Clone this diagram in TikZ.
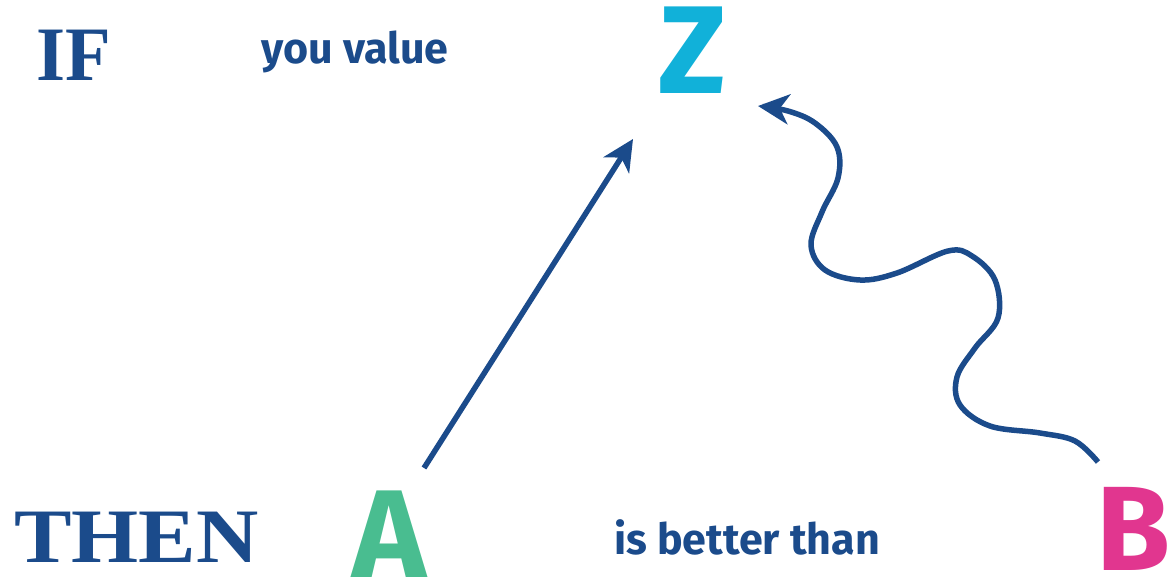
\documentclass[tikz,border=0pt]{standalone}
\usepackage{fontspec}
\setmainfont{Liberation Serif}
\newfontfamily\fira{Fira Sans}
\usetikzlibrary{arrows.meta}
\definecolor{navy}{HTML}{1B4B8B}
\definecolor{zcyan}{HTML}{11B1D9}
\definecolor{agreen}{HTML}{49BD90}
\definecolor{bpink}{HTML}{E1368F}
\tikzset{
  serifword/.style={inner sep=0pt, anchor=base west, text=navy, font=\bfseries\fontsize{77}{77}\selectfont},
  sansword/.style={inner sep=0pt, anchor=base west, text=navy, font=\fira\bfseries\fontsize{43}{43}\selectfont},
  bigletter/.style={inner sep=0pt, anchor=base west, font=\fira\bfseries\fontsize{125}{125}\selectfont},
  link/.style={draw=navy, line width=5.5pt, -{Stealth[length=31pt, width=30pt, inset=9pt]}}
}
\begin{document}
\begin{tikzpicture}[x=1pt, y=-1pt]
\useasboundingbox (0,0) rectangle (1171,580);
\node[serifword, xscale=0.97] (if) at (36,81) {IF};
\node[serifword, xscale=1.12] (then) at (14,562) {THEN};
\node[sansword] (youvalue) at (261,64) {you value};
\node[sansword] (better) at (614,554) {is better than};
\node[bigletter, text=zcyan] (Z) at (658,94) {Z};
\node[bigletter, text=agreen] (A) at (352,577) {A};
\node[bigletter, text=bpink, font=\fira\bfseries\fontsize{120}{120}\selectfont] (B) at (1096,570) {B};
\coordinate (a1) at (424,468);
\coordinate (z1) at (633,139);
\coordinate (b1) at (1098,462);
\coordinate (z2) at (758,106);
\draw[link] (a1) -- (z1);
\draw[link] plot[smooth, tension=0.6] coordinates {(b1) (1075,441) (1040,433) (990,426) (960,405) (957,377) (975,348) (998,318) (995,280) (972,256) (948,251) (897,273) (860,280) (825,270) (811,245) (822,212) (838,178) (837,147) (815,123) (788,111) (z2)};
\end{tikzpicture}
\end{document}
